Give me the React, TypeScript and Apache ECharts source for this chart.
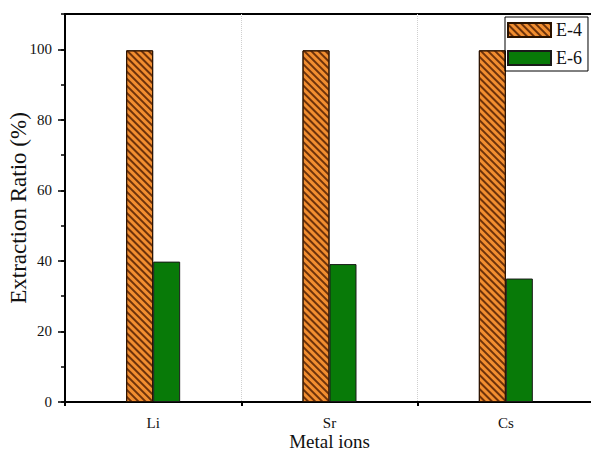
import React, { useEffect, useRef } from "react";
import * as echarts from "echarts";

const categories = ["Li", "Sr", "Cs"];
const e4Values = [99.7, 99.7, 99.7];
const e6Values = [39.8, 39.1, 35.0];
const seriesNames = ["E-4", "E-6"];

const FONT = "'Liberation Serif', 'Times New Roman', serif";

export default function App() {
  const ref = useRef<HTMLDivElement>(null);
  useEffect(() => {
    const chart = echarts.init(ref.current!, null, { renderer: "svg" });
    chart.setOption({
      animation: false,
      backgroundColor: "#fff",
      textStyle: { fontFamily: FONT },
      grid: {
        left: 65,
        top: 14,
        right: -3,
        bottom: 49,
        show: true,
        borderColor: "#000",
        borderWidth: 2,
        outerBoundsMode: "none",
        containLabel: false,
      },
      legend: {
        orient: "vertical",
        left: 505,
        top: 17,
        padding: [4, 6, 4, 2],
        borderColor: "#000",
        borderWidth: 1,
        icon: "rect",
        itemWidth: 43,
        itemHeight: 14,
        itemGap: 10,
        textStyle: { fontFamily: FONT, fontSize: 18, color: "#111", padding: [0, 0, 0, 0] },
        data: seriesNames,
      },
      xAxis: [
        {
          type: "category",
          data: categories,
          position: "bottom",
          name: "Metal ions",
          nameLocation: "middle",
          nameMoveOverlap: false,
          nameGap: 30,
          nameTextStyle: { fontFamily: FONT, fontSize: 19, color: "#111", verticalAlign: "top" },
          axisLine: { lineStyle: { color: "#000", width: 2 } },
          axisTick: { alignWithLabel: true, length: 8, lineStyle: { color: "#000", width: 2 } },
          axisLabel: { fontFamily: FONT, fontSize: 15, color: "#111", margin: 13 },
          splitLine: { show: false },
        },
        {
          type: "category",
          data: categories,
          position: "bottom",
          axisLine: { show: false },
          axisTick: { show: true, length: 4, lineStyle: { color: "#000", width: 2 } },
          axisLabel: { show: false },
          splitLine: { show: true, lineStyle: { color: "#cfcfcf", type: "dotted", width: 1 } },
        },
      ],
      yAxis: [
        {
          type: "value",
          min: 0,
          max: 110,
          interval: 20,
          name: "Extraction Ratio (%)",
          nameLocation: "middle",
          nameMoveOverlap: false,
          nameGap: 35,
          nameTextStyle: { fontFamily: FONT, fontSize: 23, color: "#111" },
          axisLine: { show: true, lineStyle: { color: "#000", width: 2 } },
          axisTick: { show: true, length: 7, lineStyle: { color: "#000", width: 1.5 } },
          axisLabel: { fontFamily: FONT, fontSize: 15, color: "#111", margin: 13, showMaxLabel: false },
          splitLine: { show: false },
        },
        {
          type: "value",
          min: 0,
          max: 110,
          interval: 10,
          position: "left",
          axisLine: { show: false },
          axisTick: { show: true, length: 4, lineStyle: { color: "#000", width: 1.5 } },
          axisLabel: { show: false },
          splitLine: { show: false },
        },
      ],
      series: [
        {
          name: seriesNames[0],
          type: "bar",
          data: e4Values,
          barWidth: 27,
          barGap: 0,
          itemStyle: {
            color: "#F28E30",
            borderColor: "#2a1200",
            borderWidth: 1,
            decal: {
              symbol: "rect",
              symbolSize: 1,
              dashArrayX: [1, 0],
              dashArrayY: [1.1, 2.9],
              rotation: Math.PI / 4,
              color: "rgba(95,40,5,0.9)",
            },
          },
        },
        {
          name: seriesNames[1],
          type: "bar",
          data: e6Values,
          barWidth: 27,
          barGap: 0,
          itemStyle: { color: "#087A08", borderColor: "#1a1a1a", borderWidth: 1 },
        },
      ],
    });
    return () => chart.dispose();
  }, []);
  return <div ref={ref} style={{ width: 591, height: 451, position: "absolute", left: 0, top: 0 }} />;
}
